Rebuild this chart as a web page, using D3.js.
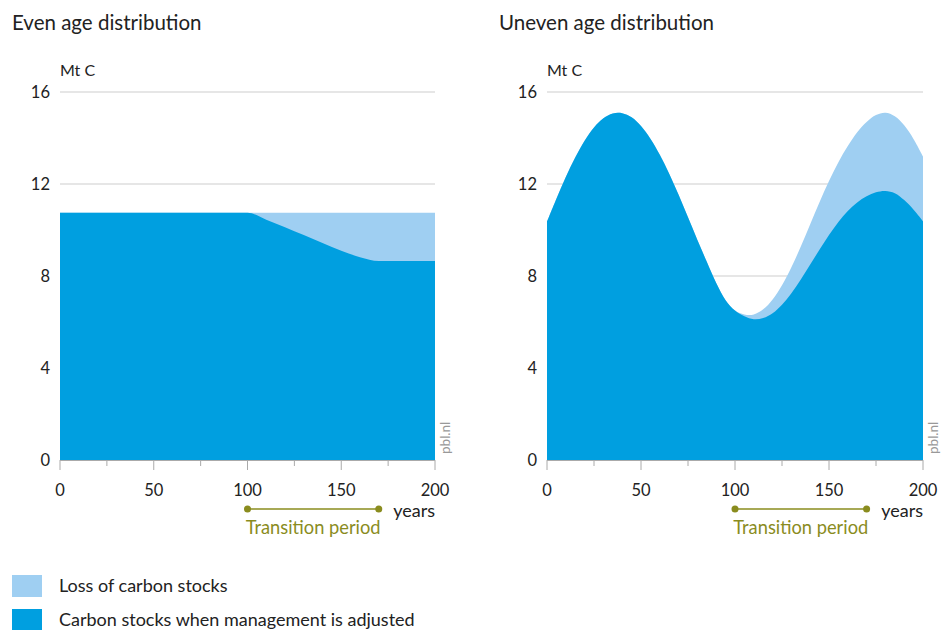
<!DOCTYPE html>
<html><head><meta charset="utf-8">
<script src="https://cdn.jsdelivr.net/npm/d3@7"></script>
<style>body{margin:0;background:#fff} svg{display:block;font-family:Lato,"Noto Sans",sans-serif}</style>
</head><body><svg id="c" width="942" height="630"></svg>
<script>
// ---- data ----
const panelTitles = ["Even age distribution", "Uneven age distribution"];
const unitLabel = "Mt C";
const xAxisLabel = "years";
const transitionLabel = "Transition period";
const sourceLabel = "pbl.nl";
const yTicks = [0, 4, 8, 12, 16];
const xTicks = [0, 50, 100, 150, 200];
const xMinorTicks = [25, 75, 125, 175];
const transitionPeriod = [100, 170];
const legendLabels = ["Loss of carbon stocks", "Carbon stocks when management is adjusted"];

const evenYears    = [0, 100, 110, 120, 130, 140, 150, 160, 170, 200];
const evenCurrent  = [10.75, 10.75, 10.75, 10.75, 10.75, 10.75, 10.75, 10.75, 10.75, 10.75];
const evenAdjusted = [10.75, 10.75, 10.45, 10.12, 9.78, 9.43, 9.1, 8.82, 8.65, 8.65];

const unevenYears = [0,5,10,15,20,25,30,35,40,45,50,55,60,65,70,75,80,85,90,95,100,
                     105,110,115,120,125,130,135,140,145,150,155,160,165,170,175,180,185,190,195,200];
const unevenCurrent = [10.36,11.36,12.3,13.15,13.88,14.46,14.86,15.07,15.08,14.9,14.52,13.97,13.27,12.45,11.53,10.55,9.57,8.62,7.7,6.95,6.5,
                       6.33,6.33,6.55,6.98,7.6,8.38,9.28,10.25,11.22,12.13,12.95,13.65,14.25,14.7,15.0,15.1,14.95,14.55,13.95,13.2];
const unevenAdjusted = [10.36,11.36,12.3,13.15,13.88,14.46,14.86,15.07,15.08,14.9,14.52,13.97,13.27,12.45,11.53,10.55,9.57,8.62,7.7,6.95,6.5,
                        6.25,6.12,6.17,6.38,6.75,7.25,7.85,8.5,9.15,9.78,10.35,10.83,11.2,11.47,11.64,11.7,11.6,11.3,10.88,10.38];

// ---- style ----
const colDark = "#009fe0", colLight = "#9fcff2", olive = "#8a8c1e";
const svg = d3.select("#c");

const panels = [
  {x0: 60, x1: 435, years: evenYears, cur: evenCurrent, adj: evenAdjusted, title: panelTitles[0], tx: 12, curve: d3.curveMonotoneX},
  {x0: 547, x1: 923, years: unevenYears, cur: unevenCurrent, adj: unevenAdjusted, title: panelTitles[1], tx: 499, curve: d3.curveCatmullRom.alpha(0.5)}
];
const yTop = 92, yBot = 460;

panels.forEach(p => {
  const g = svg.append("g");
  const x = d3.scaleLinear().domain([0, 200]).range([p.x0, p.x1]);
  const y = d3.scaleLinear().domain([0, 16]).range([yBot, yTop]);

  g.append("text").attr("x", p.tx).attr("y", 30).attr("font-size", 20.5).attr("fill", "#222").text(p.title);
  g.append("text").attr("x", p.x0).attr("y", 76).attr("font-size", 16).attr("fill", "#222").text(unitLabel);

  // gridlines
  g.selectAll("line.grid").data(yTicks.filter(d => d > 0)).join("line")
    .attr("x1", p.x0).attr("x2", p.x1).attr("y1", d => y(d)).attr("y2", d => y(d))
    .attr("stroke", "#dedede").attr("stroke-width", 1.5);
  g.selectAll("text.yt").data(yTicks).join("text")
    .attr("x", p.x0 - 10).attr("y", d => y(d)).attr("dy", "0.35em")
    .attr("text-anchor", "end").attr("font-size", 16.5).attr("fill", "#222").text(d => d);

  const pts = p.years.map((yr, i) => ({yr, cur: p.cur[i], adj: p.adj[i]}));
  const areaCur = d3.area().curve(p.curve).x(d => x(d.yr)).y0(y(0)).y1(d => y(d.cur));
  const areaAdj = d3.area().curve(p.curve).x(d => x(d.yr)).y0(y(0)).y1(d => y(d.adj));
  g.append("path").datum(pts).attr("d", areaCur).attr("fill", colLight);
  g.append("path").datum(pts).attr("d", areaAdj).attr("fill", colDark);

  // x axis
  g.append("line").attr("x1", p.x0).attr("x2", p.x1).attr("y1", yBot + 0.5).attr("y2", yBot + 0.5)
    .attr("stroke", "#aaa").attr("stroke-width", 1);
  g.selectAll("line.maj").data(xTicks).join("line")
    .attr("x1", d => x(d)).attr("x2", d => x(d)).attr("y1", yBot).attr("y2", yBot + 10)
    .attr("stroke", "#aaa").attr("stroke-width", 1);
  g.selectAll("line.min").data(xMinorTicks).join("line")
    .attr("x1", d => x(d)).attr("x2", d => x(d)).attr("y1", yBot).attr("y2", yBot + 6)
    .attr("stroke", "#aaa").attr("stroke-width", 1);
  g.selectAll("text.xt").data(xTicks).join("text")
    .attr("x", d => x(d)).attr("y", 496).attr("text-anchor", "middle")
    .attr("font-size", 16.5).attr("fill", "#222").text(d => d);
  g.append("text").attr("x", p.x1).attr("y", 517).attr("text-anchor", "end")
    .attr("font-size", 18).attr("fill", "#222").text(xAxisLabel);

  // transition period
  g.append("line").attr("x1", x(transitionPeriod[0])).attr("x2", x(transitionPeriod[1]))
    .attr("y1", 509).attr("y2", 509).attr("stroke", olive).attr("stroke-width", 1.3);
  g.selectAll("circle").data(transitionPeriod).join("circle")
    .attr("cx", d => x(d)).attr("cy", 509).attr("r", 3.5).attr("fill", olive);
  g.append("text").attr("x", (x(transitionPeriod[0]) + x(transitionPeriod[1])) / 2).attr("y", 534)
    .attr("text-anchor", "middle").attr("font-size", 18.3).attr("fill", olive).text(transitionLabel);

  // source
  g.append("text").attr("transform", `translate(${p.x1 + 15},454) rotate(-90)`)
    .attr("font-size", 13.5).attr("fill", "#999").text(sourceLabel);
});

// legend
const legendColors = [colLight, colDark];
legendLabels.forEach((lab, i) => {
  svg.append("rect").attr("x", 12).attr("y", 575 + i * 34).attr("width", 30).attr("height", 22).attr("fill", legendColors[i]);
  svg.append("text").attr("x", 59).attr("y", 592 + i * 34).attr("font-size", 18).attr("fill", "#222").text(lab);
});
</script></body></html>
